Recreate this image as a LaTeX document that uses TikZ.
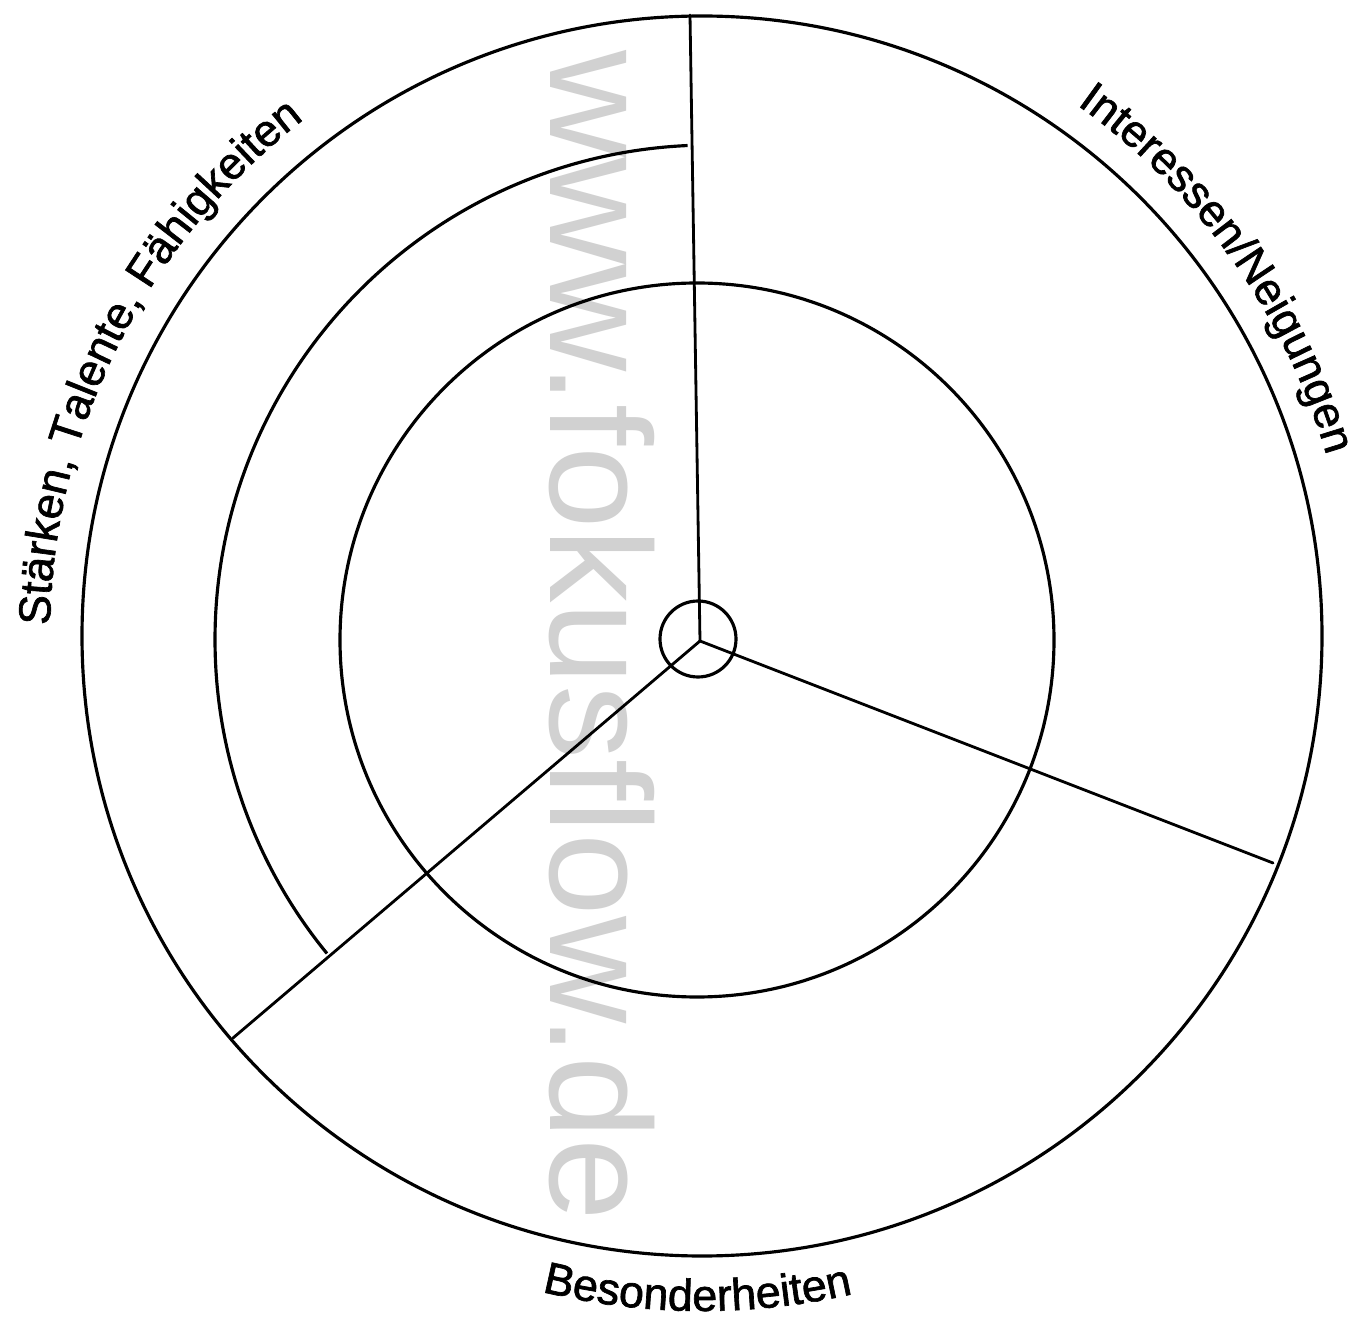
\documentclass[tikz,border=0pt]{standalone}
\usepackage{fontspec}
\setmainfont{Liberation Sans}
\newfontfamily\lblfont[FakeBold=1.5]{Liberation Sans}
\newfontfamily\wmfont{Liberation Sans}
\newcommand\lblsize{\lblfont\fontsize{25.5}{30}\selectfont}
\usetikzlibrary{calc,decorations.text}
\begin{document}
\begin{tikzpicture}[x=0.02cm,y=0.02cm,
  ring/.style={line width=1.8pt, draw=black},
  spoke/.style={line width=1.6pt, draw=black, line cap=round},
  wm/.style={text=black!18, inner sep=0pt, font=\wmfont\fontsize{82}{82}\selectfont}]
\useasboundingbox (0,0) rectangle (1360,1320);
\fill[white] (0,0) rectangle (1360,1320);
% watermark
\node[wm, rotate=-90, anchor=base west] (wmark) at (550,1270) {\scalebox{1.03}[1]{www.fokusflow.de}};
% centres and spoke ends
\coordinate (O) at (702,684);
\coordinate (I) at (697,680);
\coordinate (S) at (698,681);
\coordinate (H) at (700,679);
\coordinate (M) at (710,680);
\coordinate (Etop) at (690,1305);
\coordinate (Eright) at (1273,457);
\coordinate (Eleft) at (233,282);
% rings
\draw[ring] (O) circle[radius=620];
\draw[ring] (I) circle[radius=357];
\draw[ring] (S) circle[radius=38];
\draw[ring] ($(M)+(92.6:495)$) arc[start angle=92.6, end angle=219.3, radius=495];
% spokes
\draw[spoke] (H) -- (Etop);
\draw[spoke] (H) -- (Eright);
\draw[spoke] (H) -- (Eleft);
% labels
\path[decorate, decoration={text along path, text align=center,
  text={|\lblsize|Stärken, Talente, Fähigkeiten}}]
  ($(O)+(198.35:652)$) arc[start angle=198.35, end angle=108.35, radius=652];
\path[decorate, decoration={text along path, text align=center,
  text={|\lblsize|Interessen/Neigungen}}]
  ($(O)+(80.45:650)$) arc[start angle=80.45, end angle=-9.55, radius=650];
\path[decorate, decoration={text along path, text align=center,
  text={|\lblsize|Besonderheiten}}]
  ($(O)+(224.6:675)$) arc[start angle=224.6, end angle=314.6, radius=675];
\end{tikzpicture}
\end{document}
